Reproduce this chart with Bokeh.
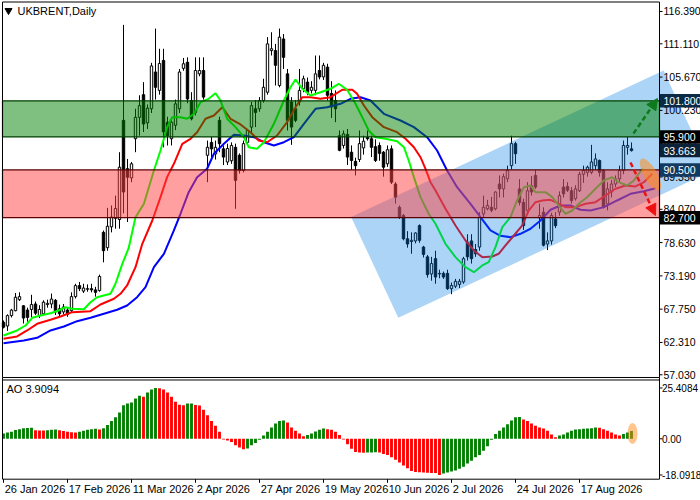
from bokeh.plotting import figure
from bokeh.models import ColumnDataSource, Range1d, BoxAnnotation, Arrow, NormalHead
from bokeh.layouts import column
from bokeh.embed import file_html
from bokeh.resources import INLINE
from bokeh.core.properties import value

FONT = "Liberation Sans"

# ---------------- data ----------------
opens = [65.6, 65.0, 66.7, 67.5, 69.3, 68.3, 67.6, 67.7, 68.6, 66.7,
         67.0, 68.5, 68.6, 69.2, 67.8, 67.3, 67.6, 67.5, 69.8, 71.6,
         70.7, 71.0, 71.1, 70.9, 70.8, 80.3, 77.8, 81.2, 82.6, 82.4,
         98.6, 90.7, 89.2, 95.6, 99.1, 102.8, 98.2, 100.5, 106.5, 103.5,
         108.4, 98.3, 95.6, 97.8, 100.5, 107.1, 108.1, 101.85, 99.9, 106.2,
         106.75, 92.9, 95.0, 93.1, 98.6, 93.95, 91.8, 92.0, 94.2, 92.9,
         90.4, 95.0, 97.5, 100.5, 100.5, 101.85, 103.2, 110.0, 110.0, 104.3,
         111.9, 106.2, 101.6, 100.5, 101.6, 103.8, 104.85, 103.5, 103.5, 106.75,
         105.7, 107.3, 103.0, 101.85, 96.1, 94.5, 96.3, 93.4, 91.9, 92.2,
         94.1, 95.8, 95.6, 94.3, 94.5, 93.4, 91.5, 93.95, 88.2, 84.4,
         83.05, 79.25, 78.8, 78.9, 81.4, 77.9, 76.3, 73.5, 76.0, 73.5,
         73.6, 73.6, 71.1, 71.5, 71.8, 72.2, 78.7, 78.9, 77.5, 77.9,
         83.3, 84.15, 84.4, 84.15, 88.2, 87.4, 89.05, 91.2, 94.8, 87.4,
         85.2, 83.9, 87.9, 89.6, 82.7, 83.6, 78.4, 78.9, 82.5, 83.6,
         87.7, 87.8, 87.1, 85.8, 87.1, 89.8, 90.1, 90.1, 91.2, 92.05,
         90.4, 84.95, 86.9, 88.2, 89.05, 90.4, 94.2, 93.95]
highs = [65.9, 66.9, 67.8, 70.4, 70.5, 68.4, 68.0, 70.1, 69.0, 68.4,
         69.2, 69.3, 70.3, 69.4, 68.5, 68.6, 68.0, 70.5, 71.9, 72.2,
         71.9, 71.8, 71.9, 71.4, 73.4, 80.6, 84.3, 84.7, 86.3, 93.4,
         114.2, 92.3, 91.8, 100.5, 102.7, 104.85, 101.2, 108.0, 113.6, 110.3,
         110.3, 99.2, 98.9, 102.0, 107.0, 108.8, 108.9, 103.2, 108.9, 108.9,
         108.9, 95.3, 95.9, 95.3, 99.2, 94.5, 94.8, 95.0, 94.8, 93.2,
         95.3, 97.2, 101.6, 101.9, 102.4, 105.4, 112.2, 113.0, 111.1, 113.6,
         112.7, 107.0, 102.4, 101.9, 107.0, 105.9, 105.6, 105.0, 109.2, 109.2,
         108.0, 107.85, 105.0, 103.5, 96.95, 96.95, 97.2, 94.5, 92.5, 96.95,
         96.1, 96.95, 96.1, 95.5, 95.0, 93.6, 94.5, 94.5, 88.5, 84.7,
         83.3, 80.5, 80.3, 80.3, 81.6, 78.1, 76.6, 76.3, 77.3, 74.2,
         73.9, 74.2, 72.1, 72.7, 72.7, 76.3, 80.0, 80.0, 78.4, 83.6,
         86.3, 85.6, 86.1, 87.0, 89.6, 89.9, 91.2, 96.1, 95.1, 89.0,
         85.8, 88.5, 89.5, 90.5, 85.0, 84.4, 80.3, 83.5, 83.6, 87.0,
         89.0, 88.5, 87.7, 88.0, 90.2, 91.2, 91.2, 94.6, 93.2, 92.2,
         90.6, 88.5, 88.9, 89.6, 91.2, 95.3, 95.96, 95.0]
lows = [64.6, 64.2, 66.4, 67.4, 69.1, 65.4, 65.7, 66.4, 66.8, 66.3,
        66.9, 68.0, 67.9, 66.8, 66.5, 66.9, 66.5, 67.2, 69.5, 70.7,
        70.4, 70.6, 70.5, 69.8, 70.6, 75.4, 77.3, 80.3, 80.9, 80.9,
        83.4, 82.0, 88.5, 93.4, 96.1, 96.7, 97.2, 99.8, 102.0, 102.8,
        94.2, 94.5, 94.5, 97.0, 99.8, 106.7, 101.4, 98.6, 99.4, 105.8,
        102.0, 88.5, 92.6, 92.2, 93.4, 91.3, 91.3, 91.5, 84.15, 89.9,
        90.1, 94.7, 96.4, 97.5, 100.0, 101.5, 102.8, 109.2, 104.3, 104.0,
        107.0, 96.95, 94.6, 98.3, 101.0, 103.2, 102.7, 103.0, 102.7, 105.3,
        105.2, 101.85, 99.0, 98.3, 93.55, 94.0, 91.3, 90.5, 89.6, 91.8,
        93.0, 95.3, 92.6, 91.8, 92.0, 89.4, 91.0, 88.2, 85.0, 82.5,
        79.0, 77.8, 76.8, 78.5, 78.6, 76.2, 72.9, 72.4, 71.9, 72.8,
        72.7, 70.9, 70.2, 71.2, 71.2, 71.9, 75.7, 75.2, 76.3, 77.3,
        82.8, 83.9, 83.6, 83.9, 86.0, 86.0, 88.5, 90.6, 91.5, 84.7,
        80.7, 83.3, 86.3, 87.4, 80.9, 78.0, 77.4, 78.3, 81.0, 83.0,
        86.0, 86.9, 85.0, 85.5, 86.9, 88.4, 89.4, 89.8, 90.5, 89.4,
        84.2, 83.9, 86.0, 87.7, 88.5, 89.8, 93.0, 93.5]
closes = [64.8, 66.7, 67.6, 69.7, 69.8, 66.3, 66.4, 68.5, 67.1, 67.7,
          68.9, 68.7, 69.4, 67.3, 67.0, 68.1, 66.9, 69.8, 71.6, 71.1,
          71.2, 71.1, 70.9, 70.5, 73.1, 77.3, 81.3, 82.8, 84.2, 90.95,
          86.9, 89.3, 91.5, 99.1, 101.0, 98.0, 100.6, 107.5, 104.0, 107.9,
          96.7, 96.1, 98.3, 101.3, 106.5, 107.85, 102.1, 98.85, 106.75, 106.75,
          102.4, 94.2, 93.95, 94.2, 94.8, 92.6, 94.0, 94.5, 88.8, 90.4,
          94.8, 96.95, 101.0, 99.9, 101.85, 104.0, 111.1, 110.3, 107.6, 112.2,
          108.9, 98.6, 97.5, 98.6, 103.5, 105.4, 103.2, 104.0, 106.2, 105.7,
          107.6, 102.7, 100.8, 100.5, 93.7, 96.4, 92.6, 92.05, 91.2, 94.8,
          95.2, 95.6, 94.2, 92.05, 93.2, 90.95, 93.8, 88.5, 86.05, 82.8,
          79.25, 78.4, 79.0, 80.2, 79.0, 76.7, 73.4, 75.2, 73.0, 73.6,
          73.0, 71.1, 71.6, 72.3, 72.3, 76.0, 76.3, 76.0, 76.8, 82.8,
          84.4, 84.7, 83.9, 86.9, 87.4, 89.4, 90.4, 94.8, 93.15, 85.2,
          81.4, 87.1, 86.9, 87.7, 83.05, 78.2, 78.9, 83.05, 81.4, 86.3,
          86.6, 87.2, 85.5, 87.4, 89.8, 90.4, 90.95, 91.8, 92.3, 90.1,
          84.4, 87.4, 88.2, 89.05, 90.4, 94.5, 94.5, 93.663]

# Alligator lines (bar index, price)
lips_x = [0, 3.4, 5.5, 7.2, 9.25, 11.75, 13.75, 15.5, 17.2, 20.1, 21.75, 23.4, 26.75, 28, 29.7,
          31.3, 33, 35.1, 37.6, 39.25, 40.9, 42.2, 44.25, 45.9, 47.6, 49.25, 51.3, 53, 54.25,
          55.9, 58, 60.1, 61.3, 63.4, 65.1, 67.6, 70.1, 71.75, 73, 74.7, 76.75, 79.25, 81.75,
          83.8, 85.9, 88, 89.7, 91.3, 93, 95.5, 98.4, 100.1, 101.3, 102.6, 104.25, 106.3, 108,
          110.5, 113, 115.5, 117.6, 119.7, 121.3, 123, 124.7, 126.75, 128.4, 130.1, 131.75, 133,
          135.5, 137.2, 138.8, 140.5, 142.2, 143.8, 145.9, 148, 150.1, 152.2, 153.8, 155.9,
          157.6, 159.7]
lips_y = [63.45, 64.27, 65.08, 66.34, 66.72, 67.09, 67.53, 68.07, 67.81, 67.74, 68.89, 69.71,
          70.26, 71.90, 75.16, 77.75, 82.78, 84.97, 90.41, 93.68, 97.49, 99.12, 99.12, 98.86,
          99.67, 101.57, 102.12, 103.04, 101.85, 98.86, 97.49, 95.85, 94.22, 93.95, 95.03, 98.04,
          101.85, 104.02, 105.28, 103.76, 102.66, 103.2, 103.76, 104.58, 103.6, 101.31, 99.12,
          96.95, 95.85, 95.59, 95.2, 94.22, 92.04, 89.32, 86.05, 83.34, 81.7, 78.43, 76.25, 74.61,
          73.79, 74.89, 75.43, 77.88, 81.15, 82.78, 85.51, 87.68, 87.96, 86.87, 86.87, 86.05,
          84.69, 83.34, 83.87, 84.97, 86.05, 87.42, 88.78, 89.32, 88.5, 87.96, 88.78, 90.69]
teeth_x = [0, 3.4, 5.9, 8.4, 11.75, 14.25, 17.2, 21.75, 24.25, 27.6, 29.25, 30.9, 33, 34.7,
           37.2, 39.25, 40.9, 42.6, 44.7, 46.75, 48.4, 50.5, 52.6, 54.7, 56.75, 59.25, 61.75,
           63.8, 65.9, 68.4, 70.9, 73, 74.7, 76.75, 79.25, 81.75, 84.7, 87.2, 88.4, 90.1, 92.2,
           95.1, 98.4, 100.5, 102.6, 104.25, 105.5, 106.75, 108, 110.5, 113, 115.5, 117.6, 119.7,
           122.2, 123.8, 125.5, 127.6, 129.7, 131.3, 133, 134.7, 136.75, 138, 140.5, 143, 145.5,
           148, 150.5, 153, 155.5, 158, 160.1, 162.2]
teeth_y = [62.91, 63.29, 64.27, 65.36, 66.02, 66.56, 67.26, 67.42, 68.52, 69.45, 70.26, 71.62,
           74.61, 78.43, 82.24, 86.05, 89.32, 91.5, 94.77, 95.59, 96.67, 98.86, 99.4, 100.75,
           98.86, 97.93, 96.67, 95.31, 95.03, 96.13, 98.3, 100.75, 102.39, 102.39, 102.12, 102.39,
           103.6, 103.6, 102.94, 101.03, 99.12, 97.49, 96.67, 95.59, 94.22, 92.58, 90.69, 88.5,
           87.14, 84.15, 81.43, 78.97, 77.34, 76.25, 76.36, 76.8, 78.16, 79.79, 81.43, 83.87,
           85.23, 85.51, 85.62, 85.23, 84.42, 84.42, 84.97, 85.23, 86.33, 87.42, 87.96, 87.8,
           88.5, 89.87]
jaw_x = [0, 5.1, 8.4, 11.75, 15.1, 18.4, 21.75, 25.1, 28.4, 30.9, 33.4, 35.5, 37.6, 40.1, 42.6,
         44.25, 46.3, 48.4, 50.9, 52.6, 55.1, 57.6, 60.1, 62.6, 65.1, 67.6, 70.1, 72.6, 75.1, 78,
         80.9, 84.25, 86.75, 89.25, 91.75, 95.1, 99.25, 102.6, 105.9, 108.4, 110.9, 113.4,
         116.75, 119.25, 121.75, 124.25, 126.75, 129.25, 131.75, 134.25, 136.75, 139.25, 141.75,
         144.25, 146.75, 150.1, 153.4, 156.75, 160.1, 163]
jaw_y = [62.19, 62.63, 63.07, 64.27, 64.92, 65.79, 66.34, 67.0, 67.65, 68.35, 69.71, 71.34,
         74.61, 76.8, 80.61, 83.34, 86.87, 89.32, 90.69, 93.14, 94.77, 96.25, 96.13, 95.85, 95.03,
         94.5, 95.03, 95.85, 98.04, 100.49, 100.75, 101.31, 102.12, 102.39, 101.85, 99.67, 98.58,
         97.49, 95.85, 93.68, 90.41, 87.68, 84.97, 82.78, 80.61, 79.74, 79.51, 80.07, 80.89,
         82.24, 83.99, 84.69, 84.69, 83.99, 83.87, 84.42, 85.51, 86.6, 87.03, 87.52]

# Awesome Oscillator
ao = [2.7, 3.1, 3.5, 4.4, 4.8, 5.3, 5.4, 5.5, 4.3, 4.2, 4.1, 4.3, 4.5, 4.6,
      4.3, 3.9, 3.5, 3.3, 3.1, 3.5, 4.0, 4.5, 4.8, 5.0, 4.7,
      5.3, 6.9, 8.9, 10.8, 13.2, 16.8, 17.6, 18.1, 20.2, 21.5, 21.0, 23.1, 24.7, 25.4084,
      25.3, 24.7, 23.1, 21.0, 18.5, 17.0, 16.8, 17.6, 17.7,
      16.9, 16.6, 14.5, 11.8, 8.9, 6.5, 3.5, -0.3, -0.8, -1.6, -3.2, -4.4, -5.2,
      -4.8, -3.2, -2.1, -0.5, 1.6, 3.5, 5.6, 7.6, 8.9, 9.2,
      8.1, 5.6, 4.0, 2.7, 1.3, 1.9, 2.7, 3.7, 4.5, 5.2,
      4.8, 4.5, 3.5, 1.9, -0.3, -2.7, -5.0, -6.6, -6.9, -6.95, -6.9, -6.8, -6.7,
      -6.9, -7.6, -8.1, -9.2, -10.5, -11.8, -13.4, -14.7, -16.1, -16.6, -16.7, -16.9, -17.0,
      -17.05, -17.1, -18.0918,
      -17.3, -16.9, -16.3, -15.8, -15.0, -14.0, -12.3, -11.0, -9.2, -8.1, -6.0, -3.7, -0.5,
      2.4, 4.0, 5.6, 7.3, 9.2, 10.8, 10.9,
      9.7, 8.9, 7.6, 6.5, 5.6, 5.2, 4.0, 2.1, 0.8,
      1.6, 2.1, 3.2, 4.0, 4.7, 4.8, 5.0, 5.1, 5.3, 5.6,
      5.5, 4.8, 4.0, 3.2, 2.1, 1.6, 2.4, 3.2, 3.9094]
ao_dir = (["g"] * 8 + ["r"] * 3 + ["g"] * 3 + ["r"] * 5 + ["g"] * 5 + ["r"] + ["g"] * 10 + ["r"]
          + ["g"] * 3 + ["r"] * 7 + ["g"] * 2 + ["r"] * 13 + ["g"] * 10 + ["r"] * 5 + ["g"] * 5
          + ["r"] * 10 + ["g"] * 3 + ["r"] * 16 + ["g"] * 20 + ["r"] * 9 + ["g"] * 10 + ["r"] * 6
          + ["g"] * 3)

price_ticks = [57.03, 62.31, 67.75, 73.19, 78.63, 84.07, 89.35, 94.79, 100.23, 105.67, 111.11, 116.39]
price_labels = ["57.030", "62.310", "67.750", "73.190", "78.630", "84.070", "89.350", "94.790",
                "100.230", "105.670", "111.110", "116.390"]
ao_ticks = [25.4084, 0.0, -18.0918]
ao_labels = ["25.4084", "0.00", "-18.0918"]
date_ticks = [0, 16, 32, 48, 64, 80, 96, 112, 128, 144]
date_labels = ["26 Jan 2026", "17 Feb 2026", "11 Mar 2026", "2 Apr 2026", "27 Apr 2026",
               "19 May 2026", "10 Jun 2026", "2 Jul 2026", "24 Jul 2026", "17 Aug 2026"]

green_zone = (95.9, 101.8)
red_zone = (82.7, 90.5)
channel_x = [86.9, 165.0, 176.75, 98.7]
channel_y = [82.83, 106.75, 90.25, 66.34]
marks = [101.8, 95.9, 93.663, 90.5, 82.7]
mark_text = ["101.800", "95.900", "93.663", "90.500", "82.700"]
mark_bg = ["#0b2a46", "#000000", "#0b2238", "#123a60", "#000000"]
up_arrow = (157.5, 96.45, 163.5, 102.17)
down_arrow = (156.75, 91.72, 163.0, 83.06)

# ---------------- layout constants ----------------
W = 700
X_LO, X_HI = -0.75, 174.25          # 4 px per bar over the 700 px canvas
AX = 164.0                          # bar index of the price-scale line
LBL_X = 165.0                       # where scale labels start
FL = -0.25                          # bar index of the left frame line
MAIN_H, AO_H = 382, 118
P_LO, P_HI = 55.768, 118.187        # price range of the main canvas (6.12 px per unit)
P_FRAME_TOP, P_FRAME_BOT = 117.94, 56.586
P_AO_TOP = 56.178                   # top line of the oscillator box (drawn in main canvas)
A_LO, A_HI = -30.85, 28.15          # AO range of the lower canvas (2 px per unit)
A_FRAME_BOT = -20.2


def bare(fig):
    fig.grid.visible = False
    fig.outline_line_color = None
    fig.min_border = 0
    fig.background_fill_color = "white"
    fig.border_fill_color = "white"


# ---------------- main panel ----------------
n = len(closes)
xs = list(range(n))
src = ColumnDataSource(dict(
    x=xs, h=highs, l=lows,
    top=[max(o, c) for o, c in zip(opens, closes)],
    bottom=[min(o, c) for o, c in zip(opens, closes)],
    fill=["white" if c >= o else "black" for o, c in zip(opens, closes)],
))

p = figure(width=W, height=MAIN_H, x_range=Range1d(X_LO, X_HI), y_range=Range1d(P_LO, P_HI),
           x_axis_location=None, y_axis_location=None, output_backend="svg",
           toolbar_location=None, min_border=0)
bare(p)

p.segment(x0="x", y0="l", x1="x", y1="h", source=src, line_color="black", line_width=1)
p.vbar(x="x", top="top", bottom="bottom", width=0.6, fill_color="fill",
       line_color="black", line_width=1, source=src)

p.line(jaw_x, jaw_y, line_color="#0000ff", line_width=2)
p.line(teeth_x, teeth_y, line_color="#ff0000", line_width=2)
p.line(lips_x, lips_y, line_color="#00ff00", line_width=2)

p.patch(channel_x, channel_y, fill_color=(0, 125, 230), fill_alpha=0.33, line_alpha=0)

# price scale (right side)
p.segment(x0=[AX] * len(price_ticks), y0=price_ticks, x1=[AX + 0.75] * len(price_ticks),
          y1=price_ticks, line_color="black", line_width=1)
p.text(x=[LBL_X] * len(price_ticks), y=price_ticks, text=price_labels,
       text_font=value(FONT), text_font_size=value("10.5px"), text_color="black",
       text_align="left", text_baseline="middle")
p.quad(left=[AX + 0.1] * len(marks), right=[X_HI] * len(marks),
       top=[m + 1.1 for m in marks], bottom=[m - 1.1 for m in marks],
       fill_color=mark_bg, line_alpha=0)
p.text(x=[LBL_X] * len(marks), y=marks, text=mark_text, text_font=value(FONT),
       text_font_size=value("10.5px"), text_color="white", text_align="left",
       text_baseline="middle")

# zones
p.add_layout(BoxAnnotation(left=FL, right=AX, bottom=green_zone[0], top=green_zone[1],
                           fill_color="#008000", fill_alpha=0.5, line_color="#004000",
                           line_width=1.2, line_alpha=1))
p.add_layout(BoxAnnotation(left=FL, right=AX, bottom=red_zone[0], top=red_zone[1],
                           fill_color="#ff4040", fill_alpha=0.5, line_color="#5a0000",
                           line_width=1.2, line_alpha=1))

p.ellipse(x=[161.75], y=[89.76], width=36, height=13, width_units="screen",
          height_units="screen", angle=-1.05, fill_color="#ff8c1a", fill_alpha=0.55,
          line_alpha=0, level="overlay")

for (x0, y0, x1, y1), col in [(up_arrow, "#0d7a1d"), (down_arrow, "#ee1111")]:
    p.add_layout(Arrow(x_start=x0, y_start=y0, x_end=x1, y_end=y1, line_color=col,
                       line_width=2.5, line_dash="5 3",
                       end=NormalHead(size=11, fill_color=col, line_color=col)))

# frame borders (main box, plus the top of the oscillator box) and title
p.quad(left=[FL], right=[AX], top=[P_FRAME_TOP], bottom=[P_FRAME_BOT], fill_alpha=0,
       line_color="black", line_width=1, level="overlay")
p.segment(x0=[FL, FL, AX], y0=[P_AO_TOP, P_FRAME_BOT, P_FRAME_BOT],
          x1=[AX, FL, AX], y1=[P_AO_TOP, P_LO, P_LO], line_color="black", line_width=1,
          level="overlay")
p.scatter(x=[1.25], y=[116.55], marker="inverted_triangle", size=7, color="black",
          level="overlay")
p.text(x=[3.5], y=[116.47], text=["UKBRENT,Daily"], text_font=value(FONT),
       text_font_size=value("11px"), text_color="black", text_align="left",
       text_baseline="middle", level="overlay")

# ---------------- AO panel ----------------
q = figure(width=W, height=AO_H, x_range=p.x_range, y_range=Range1d(A_LO, A_HI),
           x_axis_location=None, y_axis_location=None, output_backend="svg",
           toolbar_location=None, min_border=0)
bare(q)

q.vbar(x=xs, top=ao, bottom=0, width=0.72,
       fill_color=["#008000" if d == "g" else "#ff0000" for d in ao_dir], line_alpha=0)
q.ellipse(x=[157.25], y=[2.65], width=10, height=21, width_units="screen",
          height_units="screen", fill_color="#ff8c1a", fill_alpha=0.5, line_alpha=0)

q.segment(x0=[AX] * 3, y0=ao_ticks, x1=[AX + 0.75] * 3, y1=ao_ticks, line_color="black")
q.text(x=[LBL_X - 0.4] * 3, y=ao_ticks, text=ao_labels, text_font=value(FONT),
       text_font_size=value("10px"), text_color="black", text_align="left",
       text_baseline="middle")

q.segment(x0=date_ticks, y0=[A_FRAME_BOT] * len(date_ticks), x1=date_ticks,
          y1=[A_FRAME_BOT - 1.8] * len(date_ticks), line_color="black")
q.text(x=[t + 0.3 for t in date_ticks], y=[-24.85] * len(date_ticks), text=date_labels,
       text_font=value(FONT), text_font_size=value("11px"), text_color="black",
       text_align="left", text_baseline="middle")

q.text(x=[0.75], y=[25.15], text=["AO 3.9094"], text_font=value(FONT),
       text_font_size=value("11px"), text_color="black", text_align="left",
       text_baseline="middle")
q.quad(left=[FL], right=[AX], top=[A_HI + 5], bottom=[A_FRAME_BOT], fill_alpha=0,
       line_color="black", line_width=1, level="overlay")

layout = column(p, q, spacing=0)
open("out.html", "w").write(file_html(layout, INLINE))
